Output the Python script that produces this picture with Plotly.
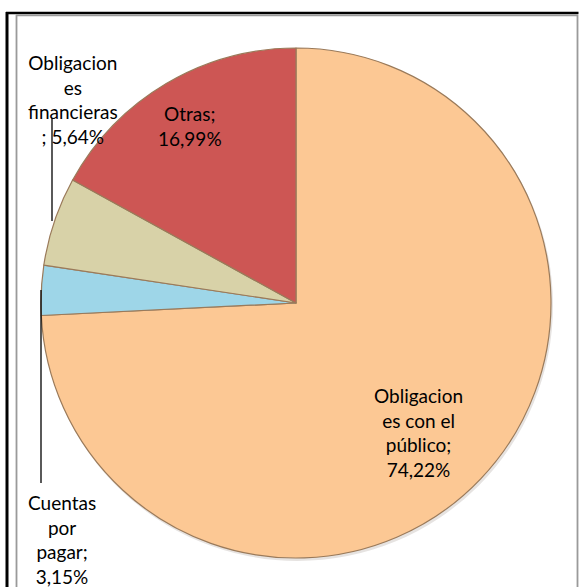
import plotly.graph_objects as go

# Composition of liabilities (share of total, %)
categories = ["Obligaciones con el público", "Cuentas por pagar",
              "Obligaciones financieras", "Otras"]
values = [74.22, 3.15, 5.64, 16.99]
# Label names as wrapped in the chart
wrapped_names = ["Obligacion<br>es con el<br>público;", "Cuentas<br>por<br>pagar;",
                 "Obligacion<br>es<br>financieras<br>;", "Otras;"]

colors = ["#FCC894", "#9ED6E8", "#D8D2A8", "#CD5654"]

W, H = 579, 587


def px(x):
    return x / W


def py(y):
    return 1 - y / H


def fmt(v):
    return f"{v:.2f}".replace(".", ",") + "%"


fig = go.Figure()

# soft drop shadow under the pie
fig.add_trace(go.Pie(
    values=[1], labels=["shadow"], sort=False, textinfo="none", hoverinfo="skip",
    marker=dict(colors=["rgba(60,40,20,0.13)"], line=dict(width=0)),
    domain=dict(x=[px(42), px(553)], y=[py(561), py(50)]),
    showlegend=False,
))

fig.add_trace(go.Pie(
    labels=categories, values=values, sort=False, direction="clockwise",
    rotation=0, textinfo="none", hoverinfo="label+percent",
    marker=dict(colors=colors, line=dict(color="#9a7a5a", width=1.2)),
    domain=dict(x=[px(41), px(551)], y=[py(558), py(48)]),
    showlegend=False,
))

# label placement (pixel centres) for each slice
label_pos = [(418, 432), (62, 539), (73, 99), (190, 126)]
font = dict(family="Lato", size=19, color="#000000")
annotations = []
for name, v, (lx, ly) in zip(wrapped_names, values, label_pos):
    sep = " " if name.endswith("<br>;") else "<br>"
    annotations.append(dict(
        x=px(lx), y=py(ly), xref="paper", yref="paper",
        text=f"{name}{sep}{fmt(v)}", showarrow=False, font=font,
        align="center", xanchor="center", yanchor="middle",
    ))

shapes = [
    # leader lines for the small slices
    dict(type="line", xref="paper", yref="paper", x0=px(52), x1=px(52),
         y0=py(118), y1=py(221), line=dict(color="#000000", width=1.3)),
    dict(type="line", xref="paper", yref="paper", x0=px(41), x1=px(41),
         y0=py(290), y1=py(483), line=dict(color="#000000", width=1.3)),
    # outer black frame
    dict(type="line", xref="paper", yref="paper", x0=px(7), x1=px(7),
         y0=py(12), y1=py(H + 2), line=dict(color="#000000", width=3)),
    dict(type="line", xref="paper", yref="paper", x0=px(6), x1=px(578.5),
         y0=py(13), y1=py(13), line=dict(color="#000000", width=2.5)),
    # grey chart-area border
    dict(type="line", xref="paper", yref="paper", x0=px(16.5), x1=px(16.5),
         y0=py(15), y1=py(H + 2), line=dict(color="#9a9a9a", width=1.8)),
    dict(type="line", xref="paper", yref="paper", x0=px(16), x1=px(578),
         y0=py(15.3), y1=py(15.3), line=dict(color="#9a9a9a", width=1.8)),
    dict(type="line", xref="paper", yref="paper", x0=px(577.5), x1=px(577.5),
         y0=py(15), y1=py(H + 2), line=dict(color="#9a9a9a", width=1.8)),
]

fig.update_layout(
    width=W, height=H, margin=dict(l=0, r=0, t=0, b=0),
    paper_bgcolor="#FFFFFF", plot_bgcolor="#FFFFFF",
    annotations=annotations, shapes=shapes, showlegend=False,
)

fig.write_html("out.html")
